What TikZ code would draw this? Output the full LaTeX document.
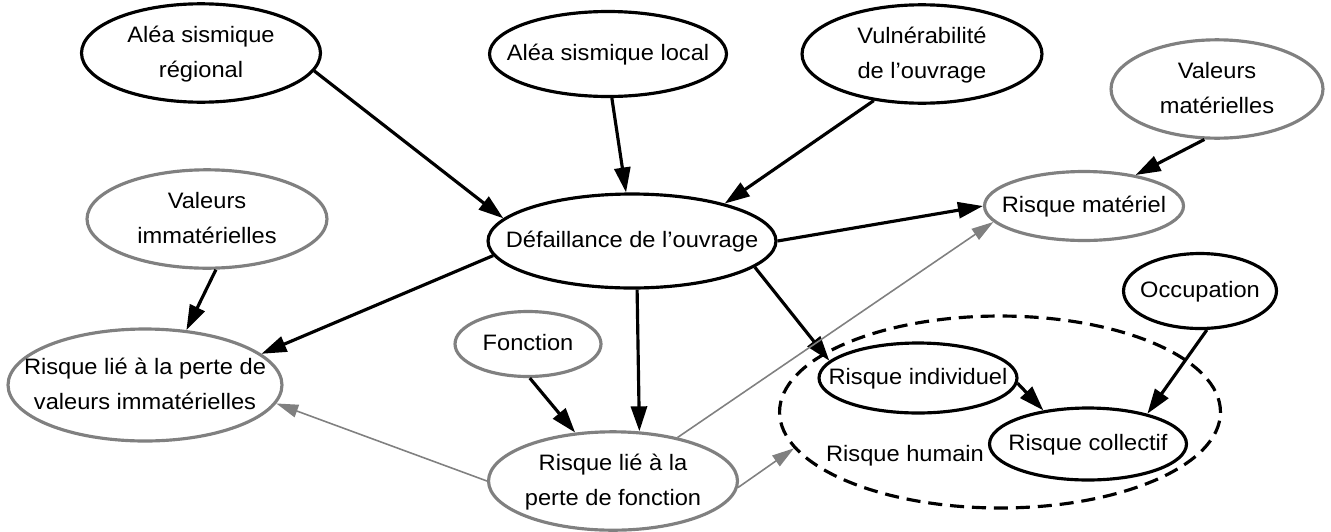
\documentclass[tikz,border=0pt]{standalone}
\usepackage{fontspec}
\setmainfont{Liberation Sans}[FakeStretch=1.06]
\usetikzlibrary{shapes.geometric,arrows.meta}

% text of a node, centred, taking no width
\newcommand{\etiq}[1]{\makebox[0pt]{\begin{tabular}{@{}c@{}}#1\end{tabular}}}

\tikzset{
  noeud/.style={ellipse, draw, line width=1.8pt, inner sep=0pt, font=\fontsize{12.7}{19.8}\selectfont},
  noeudgris/.style={noeud, draw=gray},
  fleche/.style={line width=1.8pt, -{Triangle[length=5mm,width=3.2mm]}},
  flechegrise/.style={gray, line width=0.9pt, -{Triangle[length=4.4mm,width=2.6mm]}},
}

\begin{document}
\begin{tikzpicture}[x=0.02cm,y=-0.02cm]
        \useasboundingbox (0,0) rectangle (1331,531);

        % causes
        \node[noeud, minimum width=4.78cm, minimum height=1.72cm] (reg) at (201,53) {\etiq{Aléa sismique\\régional}};
        \node[noeud, minimum width=4.74cm, minimum height=1.70cm] (loc) at (608,54) {\etiq{Aléa sismique local}};
        \node[noeud, minimum width=4.80cm, minimum height=1.70cm] (vul) at (922,54) {\etiq{Vulnérabilité\\de l’ouvrage}};
        \node[noeudgris, minimum width=4.24cm, minimum height=1.58cm] (valmat) at (1217,89) {\etiq{Valeurs\\matérielles}};
        \node[noeudgris, minimum width=4.80cm, minimum height=1.78cm] (valimm) at (207,219) {\etiq{Valeurs\\immatérielles}};
        \node[noeud, minimum width=5.76cm, minimum height=1.88cm] (def) at (632,241) {\etiq{Défaillance de l’ouvrage}};
        \node[noeudgris, minimum width=2.92cm, minimum height=1.30cm] (fon) at (528,344) {\etiq{Fonction}};
        \node[noeud, minimum width=3.06cm, minimum height=1.50cm] (occ) at (1200,291) {\etiq{Occupation}};

        % risques
        \node[noeudgris, minimum width=3.98cm, minimum height=1.38cm] (mat) at (1084,206) {\etiq{Risque matériel}};
        \node[noeudgris, minimum width=5.48cm, minimum height=2.24cm] (risimm) at (145,385) {\etiq{Risque lié à la perte de\\valeurs immatérielles}};
        \node[noeudgris, minimum width=4.98cm, minimum height=1.90cm] (perte) at (613,481) {\etiq{Risque lié à la\\perte de fonction}};
        \node[noeud, minimum width=8.82cm, minimum height=3.84cm, dash pattern=on 8pt off 4.5pt] (hum) at (1000,412) {};
        \node[noeud, minimum width=3.96cm, minimum height=1.40cm] (ind) at (918,378) {\etiq{Risque individuel}};
        \node[noeud, minimum width=3.94cm, minimum height=1.44cm] (col) at (1088,444) {\etiq{Risque collectif}};
        \node[font=\fontsize{12.7}{19.8}\selectfont] (humlbl) at (905,456) {Risque humain};

        % liens directs
        \foreach \a/\b in {reg.-9/def.170, loc.-85/def.97, vul.-136/def.22, def.0/mat.180,
          valmat.-104/mat.31, valimm.-80/risimm.53, def.-174/risimm.15, def.-84/perte.62,
          def.-12/ind.169, fon.-87/perte.128, occ.-80/col.27, ind.-3/col.143}
          \draw[fleche] (\a) -- (\b);

        % liens issus de la perte de fonction
        \foreach \a/\b in {perte.34/mat.-170, perte.180/risimm.-8, perte.-3/hum.-170}
          \draw[flechegrise] (\a) -- (\b);
\end{tikzpicture}
\end{document}
